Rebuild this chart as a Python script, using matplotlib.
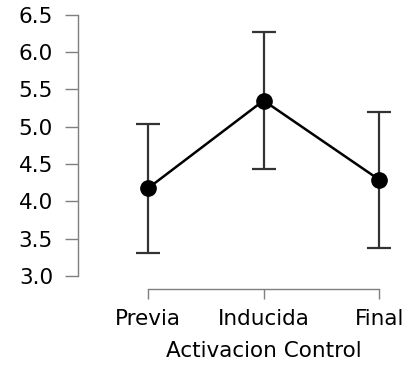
"""
Activacion Control: mean score per phase with error bars
"""

import matplotlib
matplotlib.use("Agg")
import matplotlib.pyplot as plt
import matplotlib.transforms as mtransforms

# Data
phases = ["Previa", "Inducida", "Final"]
means = [4.175, 5.35, 4.29]
errors = [0.865, 0.92, 0.91]
yticks = [3.0, 3.5, 4.0, 4.5, 5.0, 5.5, 6.0, 6.5]

plt.rcParams['font.family'] = ['DejaVu Sans']
AXIS_GRAY = '#7f7f7f'
FONT_SIZE = 15.5

fig = plt.figure(figsize=(4.1, 3.66), dpi=100)
ax = fig.add_axes([0.1902, 0.2459, 0.805, 0.714])

x = list(range(len(phases)))

# Error bars first, then the connecting line and points on top
ax.errorbar(x, means, yerr=errors, fmt='none', ecolor='#333333',
            elinewidth=1.6, capsize=8.5, capthick=1.6, zorder=2)
ax.plot(x, means, color='black', linewidth=1.8, zorder=3)
ax.plot(x, means, 'o', color='black', markersize=11, zorder=4)

ax.set_xlim(-0.606, 2.25)
ax.set_ylim(3.0, 6.5)
ax.set_xticks(x)
ax.set_xticklabels(phases)
ax.set_yticks(yticks)
ax.set_yticklabels([f"{v:.1f}" for v in yticks])

# Axis styling, separated axes
for side in ['top', 'right']:
    ax.spines[side].set_visible(False)
for side in ['left', 'bottom']:
    ax.spines[side].set_color(AXIS_GRAY)
    ax.spines[side].set_linewidth(1.0)
ax.spines['left'].set_bounds(3.0, 6.5)
ax.spines['bottom'].set_bounds(0, 2)
ax.spines['bottom'].set_position(('outward', 9.4))

ax.tick_params(axis='y', length=9.4, width=1.0, color=AXIS_GRAY,
               labelsize=FONT_SIZE, pad=8.6, labelcolor='black')
ax.tick_params(axis='x', length=7.2, width=1.0, color=AXIS_GRAY,
               labelsize=FONT_SIZE, pad=7.2, labelcolor='black')

ax.set_xlabel('Activacion Control', fontsize=FONT_SIZE)
ax.xaxis.set_label_coords(1.0, -0.247,
                          transform=mtransforms.blended_transform_factory(ax.transData, ax.transAxes))

ax.set_facecolor('white')
fig.patch.set_facecolor('white')

plt.savefig('out.png', dpi=100)
